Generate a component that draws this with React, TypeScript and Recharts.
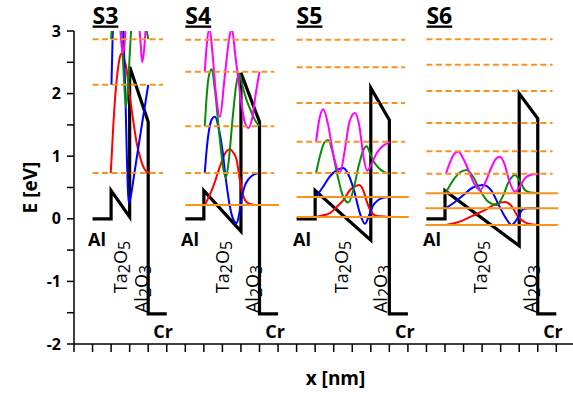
import React from 'react';
import { LineChart, Line, XAxis, YAxis, ReferenceDot } from 'recharts';

type P = [number, number];

// ---- band edge profiles (x in nm ticks, E in eV) ----
const bandS3: P[] = [[1, 0], [2, 0], [2, 0.45], [3, 0.03], [3, 2.43], [4, 1.55], [4, -1.52], [5, -1.52]];
const bandS4: P[] = [[6, 0], [7, 0], [7, 0.45], [9, -0.2], [9, 2.33], [10, 1.55], [10, -1.52], [11, -1.52]];
const bandS5: P[] = [[12, 0], [13, 0], [13, 0.45], [16, -0.34], [16, 2.09], [17, 1.58], [17, -1.52], [18, -1.52]];
const bandS6: P[] = [[19, 0], [20, 0], [20, 0.45], [24, -0.43], [24, 2.0], [25, 1.6], [25, -1.52], [26, -1.52]];

// ---- energy levels ----
const dashS3 = [2.87, 2.14, 0.73];
const dashRangeS3: P = [1, 4.8];
const dashS4 = [2.86, 2.35, 1.48, 0.73];
const dashRangeS4: P = [6, 10.8];
const solidS4 = [0.22];
const solidRangeS4: P = [6, 11.05];
const dashS5 = [2.86, 2.42, 1.85, 1.23, 0.73];
const dashRangeS5: P = [12, 17.85];
const solidS5 = [0.35, 0.03];
const solidRangeS5: P = [12, 18.05];
const dashS6 = [2.87, 2.46, 2.04, 1.53, 1.08, 0.72];
const dashRangeS6: P = [19, 25.8];
const solidS6 = [0.41, 0.17, -0.1];
const solidRangeS6: P = [18.95, 26.1];

// ---- wavefunctions S3 ----
const redS3: P[] = [[1.98, 0.73], [2.04, 1.05], [2.12, 1.5], [2.22, 1.95], [2.35, 2.35], [2.47, 2.58], [2.57, 2.64], [2.7, 2.55], [2.84, 2.38], [2.97, 2.05], [3.11, 1.74], [3.25, 1.45], [3.38, 1.21], [3.55, 1.0], [3.74, 0.83], [3.9, 0.76], [4.05, 0.74]];
const blueS3: P[] = [[2.02, 2.14], [2.05, 2.5], [2.09, 3.0], [2.2, 3.5], [2.4, 3.7], [2.55, 3.4], [2.66, 3.0], [2.76, 2.1], [2.85, 1.0], [2.9, 0.5], [2.95, 0.25], [3.0, 0.28], [3.25, 0.72], [3.5, 1.2], [3.75, 1.67], [4.0, 2.14]];
const greenS3: P[] = [[2.0, 2.87], [2.04, 3.05], [2.2, 3.6], [2.4, 3.6], [2.56, 3.0], [2.68, 2.3], [2.8, 1.79], [2.9, 2.05], [3.0, 2.6], [3.1, 3.1], [3.4, 3.7], [3.7, 3.5], [3.9, 3.05], [4.0, 2.87]];
const magentaS3: P[] = [[2.3, 3.9], [2.48, 3.1], [2.57, 2.75], [2.64, 2.64], [2.71, 2.75], [2.8, 3.1], [3.1, 3.9], [3.45, 3.3], [3.58, 2.85], [3.68, 2.5], [3.78, 2.7], [3.9, 3.2], [4.0, 3.5]];

// ---- wavefunctions S4 ----
const redS4: P[] = [[7.05, 0.22], [7.3, 0.37], [7.5, 0.51], [7.86, 0.83], [8.1, 1.02], [8.41, 1.11], [8.6, 1.05], [8.77, 0.94], [8.9, 0.7], [9.04, 0.46], [9.3, 0.27], [9.6, 0.23], [9.95, 0.22]];
const blueS4: P[] = [[7.05, 0.73], [7.15, 1.1], [7.3, 1.45], [7.45, 1.6], [7.6, 1.63], [7.8, 1.45], [8.0, 1.1], [8.2, 0.6], [8.4, 0.2], [8.6, -0.02], [8.77, -0.07], [8.92, 0.1], [9.05, 0.35], [9.2, 0.52], [9.4, 0.63], [9.65, 0.7], [9.95, 0.73]];
const greenS4: P[] = [[7.05, 1.48], [7.15, 1.95], [7.25, 2.25], [7.42, 2.39], [7.6, 2.05], [7.85, 1.3], [8.05, 0.8], [8.19, 0.65], [8.35, 0.95], [8.55, 1.6], [8.75, 2.15], [8.91, 2.32], [9.1, 2.1], [9.3, 1.9], [9.5, 1.75], [9.75, 1.58], [10.0, 1.48]];
const magentaS4: P[] = [[7.05, 2.35], [7.15, 2.75], [7.3, 3.05], [7.45, 2.7], [7.65, 2.0], [7.87, 1.63], [8.1, 2.2], [8.35, 2.85], [8.5, 3.05], [8.7, 2.6], [9.0, 1.9], [9.2, 1.55], [9.4, 1.45], [9.6, 1.6], [9.8, 2.0], [10.0, 2.35]];

// ---- wavefunctions S5 ----
const redS5: P[] = [[13.05, 0.03], [13.5, 0.06], [13.8, 0.09], [14.2, 0.2], [14.52, 0.3], [14.88, 0.46], [15.1, 0.51], [15.38, 0.54], [15.6, 0.45], [15.8, 0.26], [15.96, 0.14], [16.2, 0.06], [16.5, 0.04], [17.03, 0.03]];
const blueS5: P[] = [[13.05, 0.35], [13.4, 0.5], [13.8, 0.68], [14.2, 0.78], [14.52, 0.81], [14.8, 0.7], [15.1, 0.45], [15.4, 0.1], [15.69, -0.08], [15.9, 0.05], [16.1, 0.2], [16.4, 0.3], [16.7, 0.34], [17.03, 0.35]];
const greenS5: P[] = [[13.05, 0.73], [13.3, 1.05], [13.5, 1.22], [13.71, 1.26], [13.95, 1.05], [14.2, 0.7], [14.5, 0.36], [14.79, 0.26], [15.05, 0.45], [15.35, 0.85], [15.6, 1.1], [15.78, 1.16], [15.95, 1.05], [16.15, 0.92], [16.4, 0.82], [16.7, 0.75], [17.03, 0.72]];
const magentaS5: P[] = [[13.05, 1.23], [13.2, 1.55], [13.44, 1.75], [13.7, 1.5], [14.0, 1.0], [14.34, 0.74], [14.6, 1.1], [14.85, 1.55], [15.15, 1.69], [15.4, 1.45], [15.6, 1.0], [15.8, 0.77], [16.0, 0.85], [16.32, 1.05], [16.6, 1.15], [17.03, 1.23]];

// ---- wavefunctions S6 ----
const redS6: P[] = [[20.05, -0.1], [20.5, -0.07], [21.0, -0.02], [21.5, 0.05], [22.15, 0.14], [22.7, 0.23], [23.24, 0.27], [23.6, 0.2], [23.9, 0.05], [24.13, -0.02], [24.5, -0.08], [25.03, -0.1]];
const blueS6: P[] = [[20.05, 0.17], [20.5, 0.26], [21.0, 0.38], [21.5, 0.5], [22.06, 0.54], [22.5, 0.45], [22.9, 0.22], [23.3, 0.0], [23.6, -0.1], [23.85, -0.02], [24.2, 0.15], [24.5, 0.17], [25.03, 0.17]];
const greenS6: P[] = [[20.05, 0.42], [20.4, 0.6], [20.8, 0.74], [21.17, 0.78], [21.5, 0.68], [21.9, 0.45], [22.3, 0.28], [22.79, 0.22], [23.1, 0.35], [23.45, 0.6], [23.77, 0.7], [24.0, 0.62], [24.31, 0.46], [24.6, 0.42], [25.03, 0.41]];
const magentaS6: P[] = [[20.05, 0.72], [20.3, 0.92], [20.5, 1.04], [20.72, 1.07], [21.0, 0.95], [21.3, 0.75], [21.6, 0.55], [21.89, 0.46], [22.2, 0.6], [22.5, 0.82], [22.75, 0.96], [22.96, 0.99], [23.2, 0.88], [23.45, 0.62], [23.77, 0.43], [24.0, 0.5], [24.31, 0.65], [24.6, 0.7], [25.03, 0.72]];

// ---- axis ticks ----
const xTicks = [0, 1, 2, 3, 4, 5, 6, 7, 8, 9, 10, 11, 12, 13, 14, 15, 16, 17, 18, 19, 20, 21, 22, 23, 24, 25, 26];
const yTicks = [-2, -1.5, -1, -0.5, 0, 0.5, 1, 1.5, 2, 2.5, 3];

// ---- text annotations (data coordinates) ----
const titleText = ['S3', 'S4', 'S5', 'S6'];
const titleX = [1, 6, 12, 19];
const titleE = 3.12;
const alX = [1.24, 6.25, 12.29, 19.3];
const alE = -0.32;
const taX = [2.48, 7.98, 14.39, 21.89];
const taE = -0.77;
const al2X = [3.61, 9.6, 16.5, 24.58];
const al2E = -1.12;
const crX = [4.8, 10.84, 17.84, 25.82];
const crE = -1.79;

const FONT = '"Open Sans", "DejaVu Sans", sans-serif';
const ORANGE = '#f7931e';

const toData = (a: P[]) => a.map(([x, y]) => ({ x, y }));

const mkShape = (render: (cx: number, cy: number) => React.ReactElement) => (p: any) => render(p.cx, p.cy);

const titleShape = (txt: string) =>
  mkShape((cx, cy) => (
    <text x={cx} y={cy} textAnchor="start" fontFamily={FONT} fontWeight={700} fontSize={23} fill="#000" style={{ textDecoration: 'underline' }}>
      {txt}
    </text>
  ));

const boldShape = (txt: string, size: number) =>
  mkShape((cx, cy) => (
    <text x={cx} y={cy} textAnchor="middle" dominantBaseline="central" fontFamily={FONT} fontWeight={700} fontSize={size} fill="#000">
      {txt}
    </text>
  ));

const subShape = (a: string, d1: string, b: string, d2: string) =>
  mkShape((cx, cy) => (
    <text x={cx} y={cy} transform={`rotate(-90 ${cx} ${cy})`} textAnchor="middle" dominantBaseline="central" fontFamily={FONT} fontSize={18} fill="#000">
      <tspan>{a}</tspan>
      <tspan dy={4} fontSize={16}>{d1}</tspan>
      <tspan dy={-4}>{b}</tspan>
      <tspan dy={4} fontSize={16}>{d2}</tspan>
    </text>
  ));

export default function App() {
  const bands = [bandS3, bandS4, bandS5, bandS6];
  const waves: [P[], string][] = [
    [redS3, '#ff0000'], [blueS3, '#0000ff'], [greenS3, '#0a8a0a'], [magentaS3, '#ff00ff'],
    [redS4, '#ff0000'], [blueS4, '#0000ff'], [greenS4, '#0a8a0a'], [magentaS4, '#ff00ff'],
    [redS5, '#ff0000'], [blueS5, '#0000ff'], [greenS5, '#0a8a0a'], [magentaS5, '#ff00ff'],
    [redS6, '#ff0000'], [blueS6, '#0000ff'], [greenS6, '#0a8a0a'], [magentaS6, '#ff00ff'],
  ];
  const levels: { e: number; r: P; dashed: boolean }[] = [];
  const addLv = (arr: number[], r: P, dashed: boolean) => arr.forEach((e) => levels.push({ e, r, dashed }));
  addLv(dashS3, dashRangeS3, true);
  addLv(dashS4, dashRangeS4, true);
  addLv(solidS4, solidRangeS4, false);
  addLv(dashS5, dashRangeS5, true);
  addLv(solidS5, solidRangeS5, false);
  addLv(dashS6, dashRangeS6, true);
  addLv(solidS6, solidRangeS6, false);

  const hidden = { fill: 'none', stroke: 'none' };

  return (
    <div style={{ position: 'absolute', left: 0, top: 0, width: 573, height: 398, background: '#fff' }}>
      <LineChart width={573} height={398} margin={{ top: 31, right: 0, left: 14, bottom: 0 }}>
        <XAxis
          type="number"
          dataKey="x"
          domain={[0, 26.9]}
          allowDataOverflow
          ticks={xTicks}
          tickFormatter={() => ''}
          tickSize={8}
          height={54}
          axisLine={{ stroke: '#000', strokeWidth: 1.5 }}
          tickLine={{ stroke: '#000', strokeWidth: 1.5 }}
          label={{ value: 'x [nm]', position: 'center', dx: 12, dy: 7, style: { fontFamily: FONT, fontWeight: 700, fontSize: 19, fill: '#000' } }}
        />
        <YAxis
          type="number"
          domain={[-2, 3]}
          allowDataOverflow
          ticks={yTicks}
          tickFormatter={(v: number) => (Number.isInteger(v) ? String(v) : '')}
          tickSize={7}
          tickMargin={6}
          width={60}
          interval={0}
          axisLine={{ stroke: '#000', strokeWidth: 1.5 }}
          tickLine={{ stroke: '#000', strokeWidth: 1.5 }}
          tick={{ fontFamily: FONT, fontWeight: 700, fontSize: 16, fill: '#000' }}
          label={{ value: 'E [eV]', angle: -90, position: 'center', dx: -14, style: { fontFamily: FONT, fontWeight: 700, fontSize: 19, fill: '#000' } }}
        />
        {bands.map((b, i) => (
          <Line key={'band' + i} data={toData(b)} dataKey="y" type="linear" stroke="#000" strokeWidth={3.2} dot={false} activeDot={false} isAnimationActive={false} />
        ))}
        {waves.map(([w, c], i) => (
          <Line key={'wave' + i} data={toData(w)} dataKey="y" type="monotone" stroke={c} strokeWidth={2} dot={false} activeDot={false} isAnimationActive={false} />
        ))}
        {levels.map((l, i) => (
          <Line
            key={'lv' + i}
            data={toData([[l.r[0], l.e], [l.r[1], l.e]])}
            dataKey="y"
            type="linear"
            stroke={ORANGE}
            strokeWidth={2}
            strokeDasharray={l.dashed ? '6 3.5' : undefined}
            dot={false}
            activeDot={false}
            isAnimationActive={false}
          />
        ))}
        {titleText.map((t, i) => (
          <ReferenceDot key={'t' + i} x={titleX[i]} y={titleE} r={1} ifOverflow="visible" {...hidden} shape={titleShape(t)} />
        ))}
        {alX.map((x, i) => (
          <ReferenceDot key={'al' + i} x={x} y={alE} r={1} ifOverflow="visible" {...hidden} shape={boldShape('Al', 18)} />
        ))}
        {taX.map((x, i) => (
          <ReferenceDot key={'ta' + i} x={x} y={taE} r={1} ifOverflow="visible" {...hidden} shape={subShape('Ta', '2', 'O', '5')} />
        ))}
        {al2X.map((x, i) => (
          <ReferenceDot key={'a2' + i} x={x} y={al2E} r={1} ifOverflow="visible" {...hidden} shape={subShape('Al', '2', 'O', '3')} />
        ))}
        {crX.map((x, i) => (
          <ReferenceDot key={'cr' + i} x={x} y={crE} r={1} ifOverflow="visible" {...hidden} shape={boldShape('Cr', 18)} />
        ))}
      </LineChart>
    </div>
  );
}
